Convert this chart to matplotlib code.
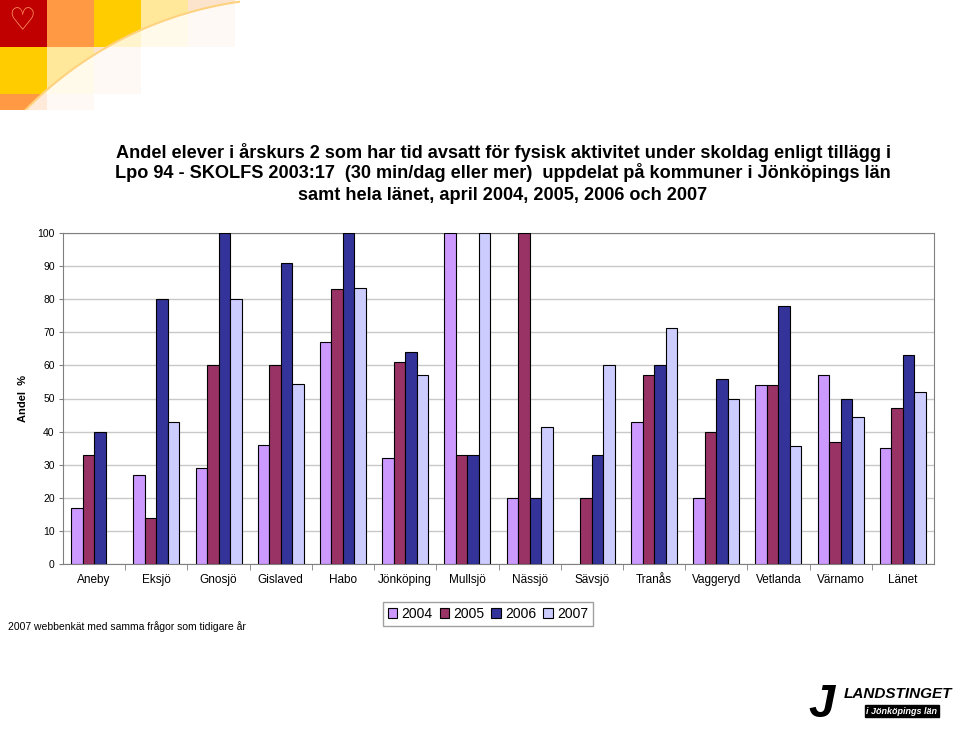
import numpy as np
import matplotlib
matplotlib.use('Agg')
import matplotlib.pyplot as plt
from matplotlib.patches import Rectangle, Polygon

plt.rcParams['font.family'] = ['Liberation Sans', 'DejaVu Sans']

kommuner = ['Aneby', 'Eksjö', 'Gnosjö', 'Gislaved', 'Habo', 'Jönköping', 'Mullsjö',
            'Nässjö', 'Sävsjö', 'Tranås', 'Vaggeryd', 'Vetlanda', 'Värnamo', 'Länet']
years = ['2004', '2005', '2006', '2007']
v2004 = [17, 27, 29, 36, 67, 32, 100, 20, np.nan, 43, 20, 54, 57, 35]
v2005 = [33, 14, 60, 60, 83, 61, 33, 100, 20, 57, 40, 54, 37, 47]
v2006 = [40, 80, 100, 91, 100, 64, 33, 20, 33, 60, 56, 78, 50, 63]
v2007 = [np.nan, 43, 80, 54.3, 83.3, 57, 100, 41.5, 60, 71.3, 50, 35.5, 44.3, 52]
colors = ['#CC99FF', '#993366', '#333399', '#CCCCFF']

W, H = 960, 732
fig = plt.figure(figsize=(W / 100, H / 100), dpi=100)

# decoration top left
deco = fig.add_axes([0, 1 - 110 / H, 240 / W, 110 / H])
deco.set_xlim(0, 240)
deco.set_ylim(110, 0)
deco.axis('off')
squares = [(0, 0, '#C00000'), (47, 0, '#FF9944'), (94, 0, '#FFCC00'), (141, 0, '#FFE89A'),
           (188, 0, '#FCE4CC'), (0, 47, '#FFCC00'), (47, 47, '#FFE89A'), (94, 47, '#FCE4CC'),
           (0, 94, '#FF9944'), (47, 94, '#FCE4CC')]
for x, y, c in squares:
    deco.add_patch(Rectangle((x, y), 47, 47, color=c, lw=0))
t = np.linspace(np.pi * 0.93, np.pi * 1.5, 100)
cx, cy, r = 292, 371, 373
arc = np.column_stack([cx + r * np.cos(t), cy + r * np.sin(t)])
poly = np.vstack([arc, [[260, -5], [260, 120], [0, 120]]])
deco.add_patch(Polygon(poly, closed=True, color='white', alpha=0.8, lw=0))
deco.plot(arc[:, 0], arc[:, 1], color='#FFD27F', lw=1.5)
deco.text(22, 22, '♡', color='#FF9966', fontsize=22, ha='center', va='center',
          family='DejaVu Sans')

# main chart
ax = fig.add_axes([63 / W, 1 - 564 / H, 871 / W, 331 / H])
x = np.arange(len(kommuner))
bw = 0.185
for i, (vals, col, yr) in enumerate(zip([v2004, v2005, v2006, v2007], colors, years)):
    ax.bar(x + (i - 1.5) * bw, vals, bw, color=col, edgecolor='black', lw=0.8, label=yr,
           zorder=3)

ax.set_xlim(-0.5, len(kommuner) - 0.5)
ax.set_ylim(0, 100)
ax.set_yticks(range(0, 101, 10))
ax.tick_params(axis='y', labelsize=7.5, length=3, color='#808080', pad=3)
ax.set_xticks(x)
ax.set_xticklabels(kommuner, fontsize=8.5)
ax.tick_params(axis='x', length=0, pad=7)
ax.set_xticks(np.arange(0.5, len(kommuner) - 0.5), minor=True)
ax.tick_params(axis='x', which='minor', length=4, color='#808080')
ax.grid(axis='y', color='#C8C8C8', lw=1, zorder=0)
for s in ax.spines.values():
    s.set_color('#808080')
ax.set_ylabel('Andel  %', fontsize=8, fontweight='bold', labelpad=7)

title_lines = [
    'Andel elever i årskurs 2 som har tid avsatt för fysisk aktivitet under skoldag enligt tillägg i',
    'Lpo 94 - SKOLFS 2003:17  (30 min/dag eller mer)  uppdelat på kommuner i Jönköpings län',
    'samt hela länet, april 2004, 2005, 2006 och 2007',
]
for line, ypix in zip(title_lines, [152, 173, 196]):
    fig.text(503 / W, 1 - ypix / H, line, ha='center', va='center', fontsize=13.1,
             fontweight='bold')

fig.legend(loc='center', bbox_to_anchor=(488 / W, 1 - 614 / H), ncol=4, fontsize=10,
           handlelength=0.7, handleheight=0.7, handletextpad=0.3, columnspacing=0.5,
           borderpad=0.35, fancybox=False, edgecolor='#A0A0A0', framealpha=1)

fig.text(8 / W, 1 - 627 / H, '2007 webbenkät med samma frågor som tidigare år',
         ha='left', va='center', fontsize=7.5)

# logo bottom right
fig.text(822 / W, 1 - 705 / H, 'J', fontsize=34, fontweight='bold', style='italic',
         ha='center', va='center')
fig.text(898 / W, 1 - 694 / H, 'LANDSTINGET', fontsize=11, fontweight='bold',
         style='italic', ha='center', va='center')
fig.text(902 / W, 1 - 711 / H, 'i Jönköpings län', fontsize=6.5, fontweight='bold',
         style='italic', color='white', ha='center', va='center',
         bbox=dict(boxstyle='square,pad=0.2', fc='black', ec='black'))

fig.savefig('out.png', dpi=100)
